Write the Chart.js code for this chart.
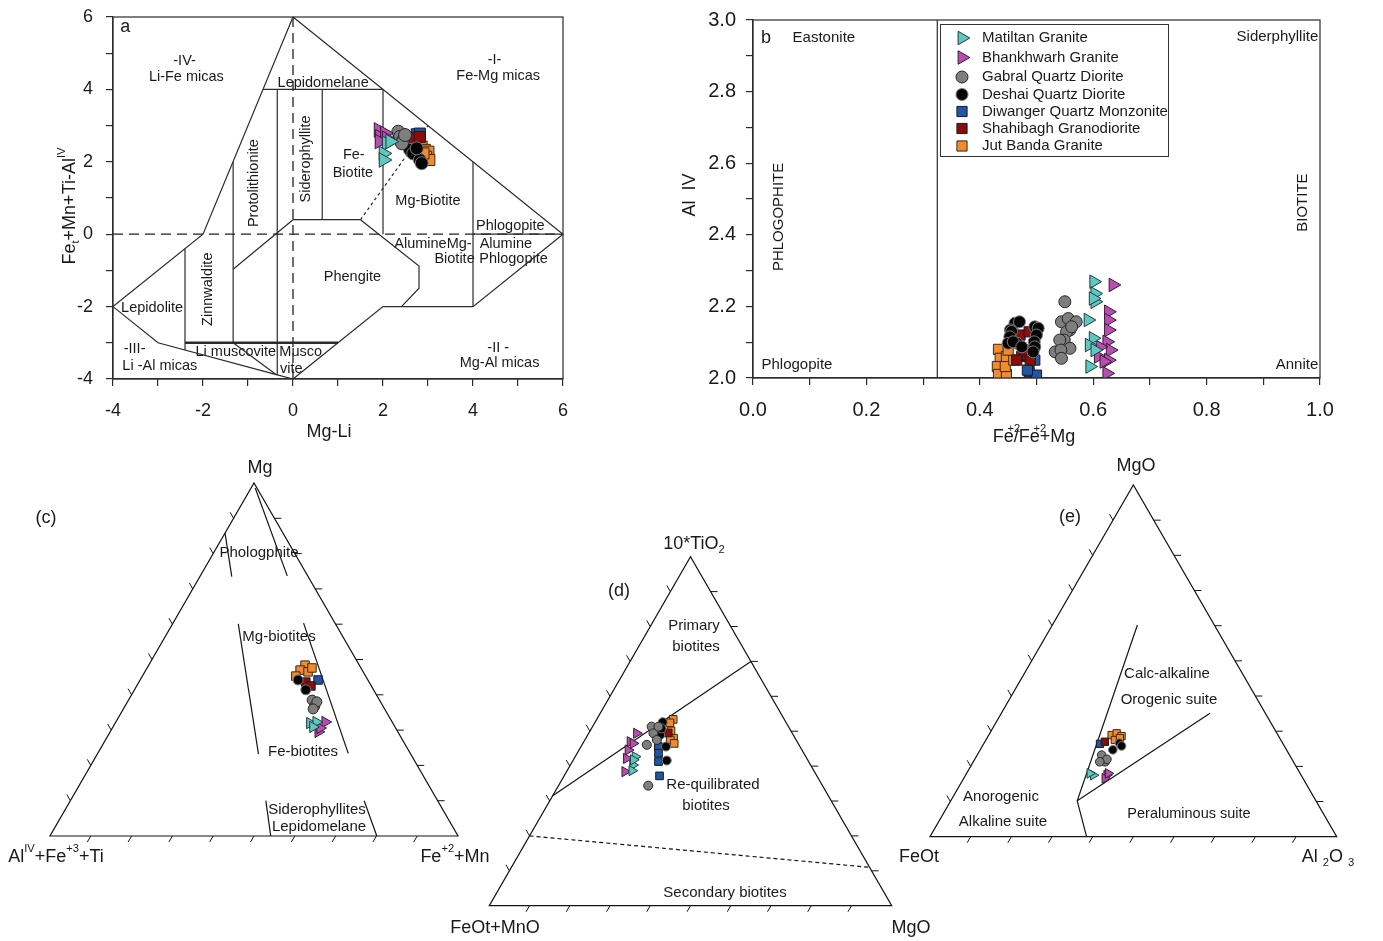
<!DOCTYPE html>
<html lang="en">
<head>
<meta charset="utf-8">
<title>Biotite classification diagrams</title>
<script src="https://cdn.jsdelivr.net/npm/chart.js@4.4.1/dist/chart.umd.min.js"></script>
<style>
  html, body { margin: 0; padding: 0; background: #fff; }
  #sheet { position: relative; width: 1383px; height: 941px; overflow: hidden; background: #fff; }
  #sheet canvas { position: absolute; }
</style>
</head>
<body>
<div id="sheet">
  <canvas id="panelA" width="600" height="460" style="left:0px;top:0px"></canvas>
  <canvas id="panelB" width="723" height="460" style="left:660px;top:0px"></canvas>
  <canvas id="panelC" width="500" height="420" style="left:0px;top:455px"></canvas>
  <canvas id="panelD" width="500" height="421" style="left:440px;top:520px"></canvas>
  <canvas id="panelE" width="493" height="420" style="left:890px;top:450px"></canvas>
</div>
<script>
// ---------------------------------------------------------------------------
// Sample groups
// ---------------------------------------------------------------------------
const seriesNames = [
  'Matiltan Granite',
  'Bhankhwarh Granite',
  'Gabral Quartz Diorite',
  'Deshai Quartz Diorite',
  'Diwanger Quartz Monzonite',
  'Shahibagh Granodiorite',
  'Jut Banda Granite'
];

// ---------------------------------------------------------------------------
// (a) Mg-Li  vs  Fet+Mn+Ti-AlIV   -> [Mg-Li, Fet+Mn+Ti-AlIV]
// ---------------------------------------------------------------------------
const aMatiltan   = [[2.08, 2.51], [2.01, 2.23], [2.01, 2.05], [2.16, 2.56]];
const aBhankhwarh = [[1.90, 2.88], [1.93, 2.69], [2.04, 2.79], [1.92, 2.56], [2.08, 2.65]];
const aGabral     = [[2.34, 2.83], [2.38, 2.69], [2.45, 2.60], [2.42, 2.51], [2.49, 2.74]];
const aDeshai     = [[2.60, 2.33], [2.67, 2.23], [2.82, 2.05], [2.86, 1.96], [2.75, 2.37]];
const aDiwanger   = [[2.75, 2.76], [2.82, 2.78]];
const aShahibagh  = [[2.71, 2.65], [2.82, 2.69]];
const aJutBanda   = [[2.86, 2.42], [2.93, 2.33], [3.01, 2.28], [2.96, 2.14], [3.03, 2.05], [2.90, 2.23]];

// field boundaries of the Mg-Li diagram
const aBoundaries = [
  [[0, 6], [6, 0], [4, -2], [2, -2], [1, -3], [0, -4]],
  [[0, 6], [-2, 0], [-4, -2], [-3, -3], [-0.37, -3.88], [0, -4]],
  [[-1.33, -3], [-0.37, -3.88]],
  [[-2.4, -0.4], [-2.4, -3.2]],
  [[-1.33, 2.0], [-1.33, -3]],
  [[-0.35, 4], [-0.35, -3.88]],
  [[0.65, 4], [0.65, 0.4]],
  [[2, 4], [2, 0]],
  [[4, 2], [4, -2]],
  [[-0.667, 4], [2, 4]],
  [[0, 0.4], [1.5, 0.4]],
  [[4, 0], [6, 0]],
  [[0, 0.4], [-1.33, -0.97]],
  [[1.5, 0.4], [2.8, -0.88], [2.8, -1.49], [2.41, -2]]
];
const aHeavyLine  = [[-2.4, -3], [1, -3]];
const aDottedLine = [[1.5, 0.4], [3, 3]];
const aOriginLines = [[[-4, 0], [6, 0]], [[0, 6], [0, -4]]];
const aTicks = { min: -4, max: 6, step: 1 };

// ---------------------------------------------------------------------------
// (b) Fe2+/(Fe2+ + Mg)  vs  AlIV
// ---------------------------------------------------------------------------
const bMatiltan   = [[0.601, 2.269], [0.603, 2.236], [0.603, 2.213], [0.600, 2.222], [0.591, 2.162], [0.600, 2.111], [0.593, 2.092], [0.603, 2.078], [0.594, 2.032]];
const bBhankhwarh = [[0.635, 2.260], [0.627, 2.185], [0.627, 2.162], [0.627, 2.134], [0.624, 2.101], [0.630, 2.078], [0.612, 2.087], [0.609, 2.060], [0.627, 2.050], [0.619, 2.046], [0.624, 2.013]];
const bGabral     = [[0.550, 2.213], [0.544, 2.157], [0.556, 2.166], [0.570, 2.157], [0.559, 2.134], [0.553, 2.129], [0.562, 2.143], [0.549, 2.106], [0.541, 2.106], [0.559, 2.083], [0.533, 2.073], [0.543, 2.078], [0.544, 2.055]];
const bDeshai     = [[0.462, 2.153], [0.470, 2.157], [0.454, 2.134], [0.456, 2.130], [0.453, 2.115], [0.450, 2.097], [0.466, 2.097], [0.459, 2.101], [0.474, 2.087], [0.497, 2.143], [0.503, 2.139], [0.500, 2.120], [0.496, 2.101], [0.497, 2.087], [0.494, 2.073]];
const bDiwanger   = [[0.487, 2.018], [0.497, 2.050], [0.500, 2.008], [0.484, 2.022]];
const bShahibagh  = [[0.471, 2.120], [0.487, 2.129], [0.474, 2.060], [0.484, 2.064], [0.480, 2.078], [0.465, 2.050], [0.489, 2.050]];
const bJutBanda   = [[0.433, 2.080], [0.436, 2.055], [0.431, 2.032], [0.433, 2.010], [0.447, 2.010], [0.445, 2.032], [0.447, 2.060], [0.460, 2.050], [0.450, 2.078]];
const bDivide = [[0.325, 2.0], [0.325, 3.0]];
const bTicksX = { min: 0, max: 1, step: 0.1 };
const bTicksY = { min: 2, max: 3, step: 0.1 };

// ---------------------------------------------------------------------------
// (c) Mg - (AlIV+Fe3++Ti) - (Fe2++Mn) ternary, values as [Mg %, Fe2++Mn %]
// ---------------------------------------------------------------------------
const cMatiltan   = [[32.0, 47.7], [32.3, 49.1], [30.9, 49.0]];
const cBhankhwarh = [[32.3, 51.3], [29.5, 51.0], [30.6, 50.9]];
const cGabral     = [[38.5, 45.0], [36.8, 46.5], [38.0, 46.4], [36.0, 46.5]];
const cDeshai     = [[44.2, 38.7], [41.4, 42.0]];
const cDiwanger   = [[44.2, 43.6]];
const cShahibagh  = [[43.6, 40.9], [42.5, 42.7]];
const cJutBanda   = [[48.4, 38.3], [47.0, 37.8], [46.5, 40.0], [47.6, 40.4], [45.3, 37.6]];
const cFieldLines = [
  [[98.6, 1.0], [73.7, 21.3]],
  [[85.8, 0.0], [73.5, 7.8]],
  [[60.1, 16.1], [23.2, 39.5]],
  [[60.3, 32.0], [23.4, 61.4]],
  [[10.0, 47.9], [0.0, 54.1]],
  [[10.0, 72.0], [0.0, 80.1]]
];

// ---------------------------------------------------------------------------
// (d) 10*TiO2 - (FeOt+MnO) - MgO ternary, values as [10*TiO2 %, MgO %]
// ---------------------------------------------------------------------------
const dMatiltan   = [[42.7, 14.9], [40.3, 15.5], [38.7, 16.1], [41.8, 14.9]];
const dBhankhwarh = [[49.4, 11.9], [47.0, 11.5], [44.6, 12.2], [42.2, 13.0], [38.4, 14.5], [46.5, 12.5]];
const dGabral     = [[51.3, 14.7], [49.4, 16.1], [46.1, 16.1], [34.4, 22.3], [47.5, 17.9], [51.3, 16.4]];
const dDeshai     = [[52.6, 16.8], [48.9, 18.0], [45.6, 21.1], [41.6, 23.3], [50.8, 17.4]];
const dDiwanger   = [[45.6, 19.2], [43.7, 20.2], [41.3, 21.4], [37.2, 23.7]];
const dShahibagh  = [[49.5, 19.7]];
const dJutBanda   = [[53.4, 19.0], [52.4, 18.7], [50.1, 20.1], [48.0, 21.8], [47.5, 21.2], [46.5, 22.7]];
const dFieldLines = [[[31.5, 0.0], [70.0, 30.0]]];
const dDashedLines = [[[20.0, 0.0], [11.0, 89.0]]];

// ---------------------------------------------------------------------------
// (e) MgO - FeOt - Al2O3 ternary, values as [MgO %, Al2O3 %]
// ---------------------------------------------------------------------------
const eMatiltan   = [[17.5, 31.4], [18.0, 30.3]];
const eBhankhwarh = [[17.5, 34.7], [16.6, 34.7], [18.0, 34.8]];
const eGabral     = [[23.2, 30.6], [21.3, 32.4], [22.0, 32.5], [21.3, 31.1]];
const eDeshai     = [[26.6, 33.3], [24.7, 32.6], [25.8, 34.2]];
const eDiwanger   = [[26.4, 28.6]];
const eShahibagh  = [[27.0, 29.5]];
const eJutBanda   = [[28.9, 30.2], [29.4, 31.2], [28.6, 32.8], [27.5, 31.7], [28.0, 32.7]];
const eFieldLines = [
  [[60.2, 20.9], [10.2, 31.1], [0.0, 38.5]],
  [[10.2, 31.1], [35.1, 51.3]]
];

const ternTicks = [10, 20, 30, 40, 50, 60, 70, 80, 90];

// ---------------------------------------------------------------------------
// Look
// ---------------------------------------------------------------------------
const FONT = '"Liberation Sans", Arial, Helvetica, sans-serif';
const INK = '#1a1a1a';
const LINE = '#2b2b2b';
Chart.defaults.font.family = FONT;
Chart.defaults.color = INK;

// z: drawing weight (higher is painted earlier, i.e. further back)
const seriesLook = [
  { shape: 'triangle', rot: 90, fill: '#5cc8c0', edge: '#233a3a', k: 1.3, z: 1 },
  { shape: 'triangle', rot: 90, fill: '#b64fae', edge: '#3a1a38', k: 1.3, z: 1 },
  { shape: 'circle',   rot: 0,  fill: '#7e7e7e', edge: '#262626', k: 1.0, z: 1 },
  { shape: 'circle',   rot: 0,  fill: '#050505', edge: '#7a7a7a', k: 1.0, z: 1 },
  { shape: 'rect',     rot: 0,  fill: '#1f56a8', edge: '#1b1b1b', k: 1.2, z: 2 },
  { shape: 'rect',     rot: 0,  fill: '#8a0c0c', edge: '#1b1b1b', k: 1.2, z: 1 },
  { shape: 'rect',     rot: 0,  fill: '#f28b30', edge: '#3b2a1b', k: 1.2, z: 1 }
];

const H3 = Math.sqrt(3) / 2;
// ternary [top %, right %] -> cartesian triangle coordinates (base 0..1)
function tpt(top, right) {
  const a = top / 100, c = right / 100;
  return { x: c + a / 2, y: a * H3 };
}
const xy = p => ({ x: p[0], y: p[1] });
const txy = p => tpt(p[0], p[1]);

function seriesSets(list, map, r) {
  return list.map((arr, i) => {
    const lk = seriesLook[i];
    return {
      label: seriesNames[i],
      data: arr.map(map),
      pointStyle: lk.shape,
      rotation: lk.rot,
      pointRadius: r * lk.k,
      pointHoverRadius: r * lk.k,
      backgroundColor: lk.fill,
      borderColor: lk.edge,
      borderWidth: 1,
      showLine: false,
      order: lk.z,
      isSeries: true
    };
  });
}

function lineSet(points, opt = {}) {
  return {
    data: points,
    showLine: true,
    pointRadius: 0,
    pointHoverRadius: 0,
    borderColor: opt.color || LINE,
    borderWidth: opt.width || 1.2,
    borderDash: opt.dash || [],
    fill: false,
    tension: 0,
    clip: false,
    order: 5
  };
}

// ---------------------------------------------------------------------------
// Text with super/subscripts:  ^{..} superscript, _{..} subscript,
// ~{..} superscript set over the preceding glyph (no advance)
// ---------------------------------------------------------------------------
function parseRich(s) {
  const out = [];
  let buf = '', i = 0;
  while (i < s.length) {
    const ch = s[i];
    if ((ch === '^' || ch === '_' || ch === '~') && s[i + 1] === '{') {
      if (buf) { out.push({ t: buf, k: 0 }); buf = ''; }
      const j = s.indexOf('}', i);
      out.push({ t: s.slice(i + 2, j), k: ch === '^' ? 1 : ch === '_' ? -1 : 2 });
      i = j + 1;
    } else { buf += ch; i++; }
  }
  if (buf) out.push({ t: buf, k: 0 });
  return out;
}

function drawRich(ctx, s, x, y, size, align, rot) {
  const parts = parseRich(s);
  ctx.save();
  ctx.translate(x, y);
  if (rot) ctx.rotate(rot * Math.PI / 180);
  ctx.textBaseline = 'middle';
  ctx.textAlign = 'left';
  ctx.fillStyle = INK;
  let w = 0;
  parts.forEach(p => {
    p.fs = p.k === 0 ? size : size * 0.62;
    ctx.font = p.fs + 'px ' + FONT;
    p.w = ctx.measureText(p.t).width;
    if (p.k !== 2) w += p.w;
  });
  let cx = align === 'left' ? 0 : align === 'right' ? -w : -w / 2;
  parts.forEach(p => {
    ctx.font = p.fs + 'px ' + FONT;
    const dy = (p.k === 1 || p.k === 2) ? -size * 0.45 : p.k === -1 ? size * 0.32 : 0;
    if (p.k === 2) {
      ctx.fillText(p.t, cx - p.w / 2, dy);
    } else {
      ctx.fillText(p.t, cx, dy);
      cx += p.w;
    }
  });
  ctx.restore();
}

// labels: d = data coordinates, p = page coordinates
function notesPlugin(items, off) {
  return {
    id: 'notes',
    beforeDatasetsDraw(chart) {
      const { ctx, scales } = chart;
      items.forEach(n => {
        let px, py;
        if (n.d) {
          px = scales.x.getPixelForValue(n.d[0]);
          py = scales.y.getPixelForValue(n.d[1]);
        } else {
          px = n.p[0] - off[0];
          py = n.p[1] - off[1];
        }
        drawRich(ctx, n.t, px, py, n.s || 15, n.a || 'center', n.r || 0);
      });
    }
  };
}

const frameBox = {
  id: 'frameBox',
  afterDraw(chart) {
    const { ctx, chartArea: c } = chart;
    ctx.save();
    ctx.strokeStyle = LINE;
    ctx.lineWidth = 1.2;
    ctx.strokeRect(c.left, c.top, c.right - c.left, c.bottom - c.top);
    ctx.restore();
  }
};

function ternaryFrame() {
  return {
    id: 'ternaryFrame',
    beforeDatasetsDraw(chart) {
      const { ctx, scales: { x, y } } = chart;
      const P = q => [x.getPixelForValue(q.x), y.getPixelForValue(q.y)];
      const L = P({ x: 0, y: 0 }), R = P({ x: 1, y: 0 }), T = P({ x: 0.5, y: H3 });
      ctx.save();
      ctx.strokeStyle = '#141414';
      ctx.lineWidth = 1.2;
      ctx.beginPath();
      ctx.moveTo(L[0], L[1]); ctx.lineTo(R[0], R[1]); ctx.lineTo(T[0], T[1]); ctx.closePath();
      ctx.stroke();
      const len = 7;
      ctx.lineWidth = 1;
      ctx.beginPath();
      ternTicks.forEach(t => {
        let p = P(tpt(0, t));                         // base
        ctx.moveTo(p[0], p[1]); ctx.lineTo(p[0] - 0.5 * len, p[1] + H3 * len);
        p = P(tpt(t, 100 - t));                       // right side
        ctx.moveTo(p[0], p[1]); ctx.lineTo(p[0] + len, p[1]);
        p = P(tpt(t, 0));                             // left side
        ctx.moveTo(p[0], p[1]); ctx.lineTo(p[0] - 0.5 * len, p[1] - H3 * len);
      });
      ctx.stroke();
      ctx.restore();
    }
  };
}

function markerPath(ctx, shape, rot, x, y, r) {
  ctx.beginPath();
  if (shape === 'circle') {
    ctx.arc(x, y, r, 0, Math.PI * 2);
  } else if (shape === 'rect') {
    const s = r * Math.SQRT1_2;
    ctx.rect(x - s, y - s, 2 * s, 2 * s);
  } else {
    let a = rot * Math.PI / 180;
    ctx.moveTo(x + Math.sin(a) * r, y - Math.cos(a) * r);
    a += 2 * Math.PI / 3; ctx.lineTo(x + Math.sin(a) * r, y - Math.cos(a) * r);
    a += 2 * Math.PI / 3; ctx.lineTo(x + Math.sin(a) * r, y - Math.cos(a) * r);
    ctx.closePath();
  }
}

const legendRows = [38, 57.5, 77, 94.5, 111.5, 128.5, 146];
const legendBox = {
  id: 'legendBox',
  afterDatasetsDraw(chart) {
    const ctx = chart.ctx;
    const bx = 280, by = 24, bw = 228, bh = 132;
    ctx.save();
    ctx.fillStyle = '#fff';
    ctx.fillRect(bx, by, bw, bh);
    ctx.strokeStyle = '#333';
    ctx.lineWidth = 1;
    ctx.strokeRect(bx + 0.5, by + 0.5, bw, bh);
    chart.data.datasets.filter(d => d.isSeries).forEach((d, i) => {
      const cy = legendRows[i];
      ctx.fillStyle = d.backgroundColor;
      ctx.strokeStyle = d.borderColor;
      ctx.lineWidth = 1;
      markerPath(ctx, d.pointStyle, d.rotation, 302, cy, d.pointRadius);
      ctx.fill();
      ctx.stroke();
      ctx.fillStyle = INK;
      ctx.font = '15px ' + FONT;
      ctx.textBaseline = 'middle';
      ctx.textAlign = 'left';
      ctx.fillText(d.label, 322, cy);
    });
    ctx.restore();
  }
};

function axis(t, fmt, size, pad, fit) {
  return {
    type: 'linear', min: t.min, max: t.max,
    ticks: {
      stepSize: t.step, autoSkip: false, maxRotation: 0, minRotation: 0,
      color: INK, font: { family: FONT, size }, padding: pad, callback: fmt
    },
    grid: { drawOnChartArea: false, drawTicks: true, tickLength: 7, color: LINE, lineWidth: 1.2 },
    border: { display: true, color: LINE, width: 1.2 },
    afterFit: fit
  };
}
// fixed axis box sizes so the plot areas sit where the layout wants them
const fixHeight = h => s => { s.height = h; s.paddingLeft = 0; s.paddingRight = 0; };
const fixWidth = w => s => { s.width = w; s.paddingTop = 0; s.paddingBottom = 0; };

const baseOptions = {
  responsive: false,
  animation: false,
  events: [],
  plugins: { legend: { display: false }, tooltip: { enabled: false } }
};

// ---------------------------------------------------------------------------
// Panel (a)
// ---------------------------------------------------------------------------
(function () {
  const datasets = [];
  datasets.push(...seriesSets([aMatiltan, aBhankhwarh, aGabral, aDeshai, aDiwanger, aShahibagh, aJutBanda], xy, 6.5));
  aBoundaries.forEach(l => datasets.push(lineSet(l.map(xy))));
  datasets.push(lineSet(aHeavyLine.map(xy), { width: 2.6 }));
  datasets.push(lineSet(aDottedLine.map(xy), { width: 1.2, dash: [3, 3] }));
  aOriginLines.forEach(l => datasets.push(lineSet(l.map(xy), { width: 1.3, dash: [10, 6], color: '#222' })));

  const notes = [
    { t: 'a', d: [-3.84, 5.72], s: 18, a: 'left' },
    { t: '-IV-', d: [-2.41, 4.78] },
    { t: 'Li-Fe micas', d: [-2.37, 4.35] },
    { t: '-I-', d: [4.48, 4.81] },
    { t: 'Fe-Mg micas', d: [4.56, 4.37] },
    { t: '-III-', d: [-3.52, -3.17] },
    { t: 'Li -Al micas', d: [-2.96, -3.63] },
    { t: '-II -', d: [4.56, -3.13] },
    { t: 'Mg-Al micas', d: [4.59, -3.57] },
    { t: 'Lepidomelane', d: [0.67, 4.18] },
    { t: 'Protolithionite', d: [-0.87, 1.41], r: -90 },
    { t: 'Siderophyllite', d: [0.28, 2.08], r: -90 },
    { t: 'Fe-', d: [1.35, 2.19] },
    { t: 'Biotite', d: [1.33, 1.69] },
    { t: 'Mg-Biotite', d: [3.0, 0.92] },
    { t: 'Phlogopite', d: [4.83, 0.22] },
    { t: 'Alumine', d: [4.73, -0.26] },
    { t: 'Phlogopite', d: [4.90, -0.68] },
    { t: 'AlumineMg-', d: [3.11, -0.27] },
    { t: 'Biotite', d: [3.59, -0.68] },
    { t: 'Phengite', d: [1.32, -1.18] },
    { t: 'Zinnwaldite', d: [-1.89, -1.52], r: -90 },
    { t: 'Lepidolite', d: [-3.13, -2.03] },
    { t: 'Li muscovite', d: [-1.27, -3.26] },
    { t: 'Musco', d: [0.17, -3.26] },
    { t: 'vite', d: [-0.04, -3.72] },
    { t: 'Mg-Li', p: [329, 432], s: 18 },
    { t: 'Fe_{t}+Mn+Ti-Al^{IV}', p: [70, 206], s: 18, r: -90 }
  ].map(n => (n.s ? n : Object.assign(n, { s: 14.5 })));

  const even = v => (Math.round(v) % 2 === 0 ? String(v) : '');
  new Chart(document.getElementById('panelA'), {
    type: 'scatter',
    data: { datasets },
    options: Object.assign({}, baseOptions, {
      layout: { padding: { left: 0, top: 17, right: 37, bottom: 0 } },
      scales: {
        x: axis(aTicks, even, 18, 14, fixHeight(81)),
        y: axis(aTicks, even, 18, 13, fixWidth(113))
      }
    }),
    plugins: [notesPlugin(notes, [0, 0]), frameBox]
  });
})();

// ---------------------------------------------------------------------------
// Panel (b)
// ---------------------------------------------------------------------------
(function () {
  const datasets = [];
  datasets.push(...seriesSets([bMatiltan, bBhankhwarh, bGabral, bDeshai, bDiwanger, bShahibagh, bJutBanda], xy, 6));
  datasets.push(lineSet(bDivide.map(xy), { width: 1.2 }));

  const notes = [
    { t: 'b', d: [0.014, 2.95], s: 18, a: 'left' },
    { t: 'Eastonite', d: [0.125, 2.95] },
    { t: 'Siderphyllite', d: [0.997, 2.952], a: 'right' },
    { t: 'PHLOGOPHITE', d: [0.046, 2.45], r: -90 },
    { t: 'BIOTITE', d: [0.97, 2.49], r: -90 },
    { t: 'Phlogopite', d: [0.015, 2.036], a: 'left' },
    { t: 'Annite', d: [0.997, 2.036], a: 'right' },
    { t: 'Al  IV', p: [690, 195], s: 18, r: -90 },
    { t: 'Fe~{+2}/Fe~{+2}+Mg', p: [1034, 437], s: 18 }
  ];

  const evenTenth = v => (Math.round(v * 10) % 2 === 0 ? v.toFixed(1) : '');
  new Chart(document.getElementById('panelB'), {
    type: 'scatter',
    data: { datasets },
    options: Object.assign({}, baseOptions, {
      layout: { padding: { left: 0, top: 20, right: 63, bottom: 0 } },
      scales: {
        x: axis(bTicksX, evenTenth, 20, 13, fixHeight(82)),
        y: axis(bTicksY, evenTenth, 20, 10, fixWidth(93))
      }
    }),
    plugins: [notesPlugin(notes, [660, 0]), frameBox, legendBox]
  });
})();

// ---------------------------------------------------------------------------
// Ternary panels
// ---------------------------------------------------------------------------
function ternaryChart(id, off, area, series, r, solid, dashed, notes) {
  const canvas = document.getElementById(id);
  const datasets = [];
  datasets.push(...seriesSets(series, txy, r));
  solid.forEach(l => datasets.push(lineSet(l.map(txy), { width: 1.2, color: '#141414' })));
  dashed.forEach(l => datasets.push(lineSet(l.map(txy), { width: 1.2, color: '#141414', dash: [4, 3] })));
  new Chart(canvas, {
    type: 'scatter',
    data: { datasets },
    options: Object.assign({}, baseOptions, {
      layout: {
        padding: {
          left: area.left - off[0],
          top: area.top - off[1],
          right: canvas.width - (area.right - off[0]),
          bottom: canvas.height - (area.bottom - off[1])
        }
      },
      scales: {
        x: { type: 'linear', min: 0, max: 1, display: false },
        y: { type: 'linear', min: 0, max: H3, display: false }
      }
    }),
    plugins: [ternaryFrame(), notesPlugin(notes, off)]
  });
}

ternaryChart('panelC', [0, 455], { left: 50, right: 458, top: 483, bottom: 836 },
  [cMatiltan, cBhankhwarh, cGabral, cDeshai, cDiwanger, cShahibagh, cJutBanda], 5,
  cFieldLines, [],
  [
    { t: 'Mg', p: [260, 468], s: 18 },
    { t: '(c)', p: [46, 518], s: 18 },
    { t: 'Al^{IV}+Fe^{+3}+Ti', p: [56, 857], s: 18 },
    { t: 'Fe^{+2}+Mn', p: [455, 857], s: 18 },
    { t: 'Phologphite', p: [259, 553] },
    { t: 'Mg-biotites', p: [279, 637] },
    { t: 'Fe-biotites', p: [303, 752] },
    { t: 'Siderophyllites', p: [317, 810] },
    { t: 'Lepidomelane', p: [319, 827] }
  ]);

ternaryChart('panelD', [440, 520], { left: 489.3, right: 891.7, top: 556.7, bottom: 905.7 },
  [dMatiltan, dBhankhwarh, dGabral, dDeshai, dDiwanger, dShahibagh, dJutBanda], 4.5,
  dFieldLines, dDashedLines,
  [
    { t: '10*TiO_{2}', p: [694, 544], s: 18 },
    { t: '(d)', p: [619, 591], s: 18 },
    { t: 'Primary', p: [694, 626] },
    { t: 'biotites', p: [696, 647] },
    { t: 'Re-quilibrated', p: [713, 785] },
    { t: 'biotites', p: [706, 806] },
    { t: 'Secondary biotites', p: [725, 893] },
    { t: 'FeOt+MnO', p: [495, 928], s: 18 },
    { t: 'MgO', p: [911, 928], s: 18 }
  ]);

ternaryChart('panelE', [890, 450], { left: 930, right: 1336.7, top: 485, bottom: 836.7 },
  [eMatiltan, eBhankhwarh, eGabral, eDeshai, eDiwanger, eShahibagh, eJutBanda], 4.3,
  eFieldLines, [],
  [
    { t: 'MgO', p: [1136, 466], s: 18 },
    { t: '(e)', p: [1070, 517], s: 18 },
    { t: 'Calc-alkaline', p: [1167, 674] },
    { t: 'Orogenic suite', p: [1169, 700] },
    { t: 'Anorogenic', p: [1001, 797] },
    { t: 'Alkaline suite', p: [1003, 822] },
    { t: 'Peraluminous suite', p: [1189, 814], s: 14.5 },
    { t: 'FeOt', p: [919, 857], s: 18 },
    { t: 'Al _{2}O _{3}', p: [1328, 857], s: 18 }
  ]);
</script>
</body>
</html>
